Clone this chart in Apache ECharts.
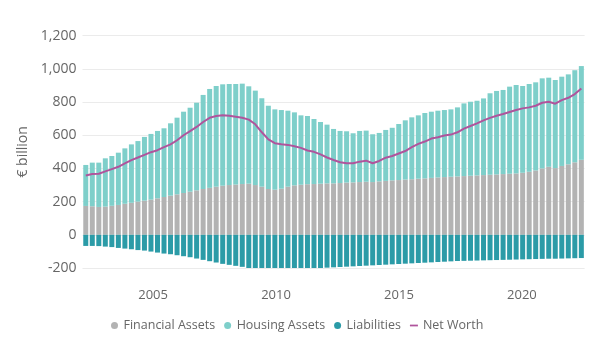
<!DOCTYPE html>
<html><head><meta charset="utf-8">
<script src="https://cdn.jsdelivr.net/npm/echarts@6/dist/echarts.min.js"></script>
<style>html,body{margin:0;padding:0;background:#fff}#c{width:614px;height:345px}</style>
</head><body><div id="c"></div>
<script>
// Quarterly periods 2002 Q1 .. 2021 Q1
const quarters = [];
for (let y = 2002; y <= 2021; y++) for (let q = 1; q <= 4; q++) { if (y === 2021 && q > 1) break; quarters.push(y + ' Q' + q); }

const financialAssets = [174,172,168,170,175,180,187,193,200,206,212,220,228,236,244,252,260,268,276,283,290,296,300,303,306,308,300,290,276,272,278,290,298,302,305,306,308,310,310,312,315,316,318,320,318,322,325,328,330,333,335,338,340,343,346,348,350,352,354,356,358,360,362,364,366,368,370,374,380,388,400,410,402,415,425,437,452];
const housingAssets = [247,263,267,291,300,315,334,352,365,384,396,406,414,436,462,490,506,528,567,596,607,611,609,606,605,587,569,533,502,484,474,458,440,418,411,392,372,354,328,314,309,296,308,308,288,292,307,317,338,357,373,382,394,399,402,404,406,416,438,446,450,462,491,503,507,525,533,523,529,531,543,537,531,538,542,555,565];
const liabilities = [-67,-67,-68,-71,-74,-79,-83,-87,-92,-95,-101,-107,-113,-117,-123,-129,-135,-143,-151,-159,-167,-175,-181,-187,-193,-201,-206,-208,-209,-210,-209,-207,-205,-204,-203,-202,-200,-198,-196,-194,-192,-190,-188,-186,-184,-182,-180,-178,-176,-174,-172,-170,-168,-166,-164,-162,-160,-158,-157,-156,-155,-154,-153,-152,-151,-150,-149,-148,-147,-146,-145,-144,-144,-143,-142,-141,-140];
const netWorth = [358,366,368,382,396,410,430,450,466,482,498,510,528,545,570,600,625,650,680,705,716,721,718,712,706,694,666,618,575,552,546,542,534,524,508,500,485,466,451,437,431,431,441,447,431,445,465,475,490,505,528,548,562,580,588,598,604,618,640,656,672,690,705,718,728,740,752,762,768,778,796,802,790,812,826,848,882];
const yearTicks = [2005, 2010, 2015, 2020];
const yearAxisRange = [2002.13, 2022.55];

const FONT = "'Open Sans', sans-serif";
const TXT = '#666666';
const chart = echarts.init(document.getElementById('c'), null, {renderer: 'canvas'});
chart.setOption({
  animation: false,
  textStyle: {fontFamily: FONT},
  grid: {left: 82.5, right: 29.4, top: 35.7, bottom: 77, containLabel: false},
  legend: {
    bottom: 8, left: 106, itemWidth: 8, itemHeight: 7, itemGap: 9,
    textStyle: {color: TXT, fontSize: 12.5, fontFamily: FONT},
    data: [
      {name: 'Financial Assets', icon: 'circle'},
      {name: 'Housing Assets', icon: 'circle'},
      {name: 'Liabilities', icon: 'circle'},
      {name: 'Net Worth', icon: 'path://M0,0H10V2.2H0Z'}
    ]
  },
  xAxis: [
    {type: 'category', data: quarters, boundaryGap: true, position: 'bottom',
     axisLine: {show: false, onZero: false}, axisTick: {show: false}, axisLabel: {show: false}, splitLine: {show: false}},
    {type: 'value', min: yearAxisRange[0], max: yearAxisRange[1], position: 'bottom',
     axisLine: {show: false, onZero: false}, axisTick: {show: false}, splitLine: {show: false},
     axisLabel: {customValues: yearTicks, color: TXT, fontSize: 13, margin: 21, fontFamily: FONT, formatter: v => String(v)}}
  ],
  yAxis: {
    type: 'value', min: -200, max: 1200, interval: 200,
    name: '€ billion', nameLocation: 'middle', nameGap: 48,
    nameTextStyle: {color: TXT, fontSize: 14, fontFamily: FONT},
    axisLine: {show: false}, axisTick: {show: false},
    axisLabel: {color: TXT, fontSize: 14, margin: 6, fontFamily: FONT,
      formatter: v => v.toLocaleString('en-US')},
    splitLine: {lineStyle: {color: '#EBEBEB', width: 1}}
  },
  series: [
    {name: 'Financial Assets', type: 'bar', stack: 'a', data: financialAssets, barWidth: 5, itemStyle: {color: '#B3B3B3'}},
    {name: 'Housing Assets', type: 'bar', stack: 'a', data: housingAssets, barWidth: 5, itemStyle: {color: '#7ECFCA'}},
    {name: 'Liabilities', type: 'bar', stack: 'a', data: liabilities, barWidth: 5, itemStyle: {color: '#2B9BA7'}},
    {name: 'Net Worth', type: 'line', data: netWorth, symbol: 'none', showSymbol: false,
     lineStyle: {color: '#B0549C', width: 2}, itemStyle: {color: '#B0549C'}, z: 5}
  ]
});
</script></body></html>
